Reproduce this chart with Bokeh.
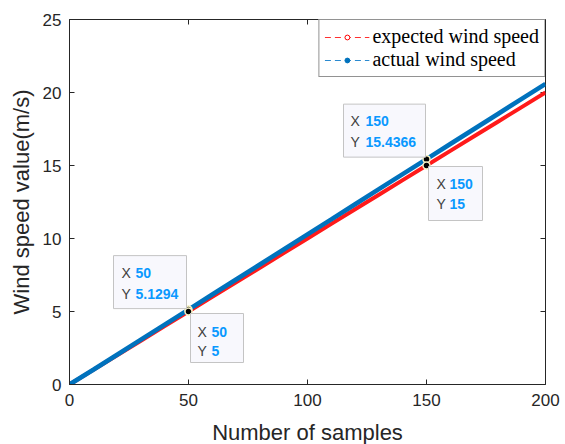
from bokeh.plotting import figure
from bokeh.models import Range1d, Legend, LegendItem, Label, FixedTicker
from bokeh.embed import file_html
from bokeh.resources import INLINE

# ---- data ----
samples = [0, 10, 20, 30, 40, 50, 60, 70, 80, 90, 100,
           110, 120, 130, 140, 150, 160, 170, 180, 190, 200]
expected = [0.0, 1.0, 2.0, 3.0, 4.0, 5.0, 6.0, 7.0, 8.0, 9.0, 10.0,
            11.0, 12.0, 13.0, 14.0, 15.0, 16.0, 17.0, 18.0, 19.0, 20.0]
actual = [0.0, 1.01, 2.04, 3.07, 4.10, 5.1294, 6.16, 7.19, 8.22, 9.25, 10.28,
          11.31, 12.35, 13.38, 14.41, 15.4366, 16.47, 17.50, 18.53, 19.56, 20.59]
x_ticks = [0, 50, 100, 150, 200]
y_ticks = [0, 5, 10, 15, 20, 25]
tip_samples = [50, 150]

FW, FH = 476, 365
XMAX, YMAX = 200, 25
SX, SY = FW / XMAX, FH / YMAX
AX = "#262626"
FONT = "Liberation Sans"
NAN = float("nan")

p = figure(frame_width=FW, frame_height=FH,
           min_border_left=69, min_border_right=20, min_border_top=19, min_border_bottom=60,
           x_range=Range1d(0, XMAX), y_range=Range1d(0, YMAX),
           output_backend="svg", toolbar_location=None,
           background_fill_color="white", border_fill_color="white")
p.outline_line_color = AX
p.outline_line_width = 1
p.grid.visible = False

for ax, tk in ((p.xaxis[0], x_ticks), (p.yaxis[0], y_ticks)):
    ax.ticker = FixedTicker(ticks=tk)
    ax.major_tick_in = 5
    ax.major_tick_out = 0
    ax.minor_tick_in = 0
    ax.minor_tick_out = 0
    ax.axis_line_color = AX
    ax.major_tick_line_color = AX
    ax.major_label_text_font = FONT
    ax.major_label_text_font_size = "17px"
    ax.major_label_text_color = AX
    ax.axis_label_text_font = FONT
    ax.axis_label_text_font_size = "22px"
    ax.axis_label_text_font_style = "normal"
    ax.axis_label_text_color = AX

p.xaxis.axis_label = "Number of samples"
p.yaxis.axis_label = "Wind speed value(m/s)"
p.xaxis.major_label_standoff = 9
p.xaxis.axis_label_standoff = 11
p.yaxis.major_label_standoff = 8
p.yaxis.axis_label_standoff = 6

# mirrored ticks on top and right (box on)
tick_len = 5
p.segment(x0=x_ticks, y0=[YMAX] * len(x_ticks), x1=x_ticks,
          y1=[YMAX - tick_len / SY] * len(x_ticks), line_color=AX, line_width=1)
p.segment(x0=[XMAX] * len(y_ticks), y0=y_ticks, x1=[XMAX - tick_len / SX] * len(y_ticks),
          y1=y_ticks, line_color=AX, line_width=1)

# ---- data lines ----
p.line(samples, expected, line_color="#ff1a1a", line_width=4.0)
p.line(samples, actual, line_color="#0072bd", line_width=4.6)

# ---- data tips ----
tips = []
for s in tip_samples:
    i = samples.index(s)
    tips.append((s, actual[i], f"{actual[i]:.4f}".rstrip("0").rstrip("."), "up"))
    tips.append((s, expected[i], f"{expected[i]:g}", "down"))

tx = [t[0] for t in tips]
ty = [t[1] for t in tips]
p.scatter(tx, ty, marker="circle", size=7, fill_color="black",
          line_color="#f7f2c4", line_width=1.5)

# box geometry (screen px, relative to the tip point; y downward)
geom = {
    (50, "up"): dict(l=-75, r=-2, t=-54, b=-1, xl=-67, vl=-53, y1=-37, y2=-16),
    (50, "down"): dict(l=2, r=55, t=2, b=51, xl=9, vl=23, y1=20, y2=39),
    (150, "up"): dict(l=-83, r=-1, t=-55, b=-2, xl=-76, vl=-61, y1=-38, y2=-17),
    (150, "down"): dict(l=2, r=56, t=1, b=55, xl=10, vl=23, y1=18, y2=38),
}
for (s, yv, ytxt, side) in tips:
    g = geom[(s, side)]
    cx = s + (g["l"] + g["r"]) / 2 / SX
    cy = yv - (g["t"] + g["b"]) / 2 / SY
    p.rect([cx], [cy], width=g["r"] - g["l"], height=g["b"] - g["t"],
           width_units="screen", height_units="screen",
           fill_color="#f8f8fd", line_color="#c4c4c4", line_width=1)
    for lab, val, yy in (("X", f"{s:g}", g["y1"]), ("Y", ytxt, g["y2"])):
        p.add_layout(Label(x=s, y=yv, x_offset=g["xl"], y_offset=-yy, text=lab,
                           text_font=FONT, text_font_size="14px", text_color="#404040",
                           text_baseline="middle", text_align="left"))
        p.add_layout(Label(x=s, y=yv, x_offset=g["vl"], y_offset=-yy, text=val,
                           text_font=FONT, text_font_size="14px", text_font_style="bold",
                           text_color="#0a99ff",
                           text_baseline="middle", text_align="left"))

# ---- legend (glyph-only renderers, nothing drawn in the plot) ----
l1 = p.line([NAN], [NAN], line_color="#ff3030", line_dash="6 4", line_width=1)
m1 = p.scatter([NAN], [NAN], marker="circle", fill_color="white",
               line_color="#ff0000", line_width=1)
l2 = p.line([NAN], [NAN], line_color="#2a8ad0", line_dash="6 4", line_width=1)
m2 = p.scatter([NAN], [NAN], marker="circle", fill_color="#0072bd",
               line_color="#0072bd", line_width=1)
legend = Legend(items=[LegendItem(label="expected wind speed", renderers=[l1, m1]),
                       LegendItem(label="actual wind speed", renderers=[l2, m2])],
                location="top_right", margin=0, padding=5, spacing=0,
                glyph_width=45, glyph_height=12, label_standoff=3,
                label_height=22,
                label_text_font="Liberation Serif", label_text_font_size="20px",
                label_text_color="black",
                border_line_color=AX, border_line_width=1,
                background_fill_color="white", background_fill_alpha=1)
p.add_layout(legend)

open("out.html", "w").write(file_html(p, INLINE))
